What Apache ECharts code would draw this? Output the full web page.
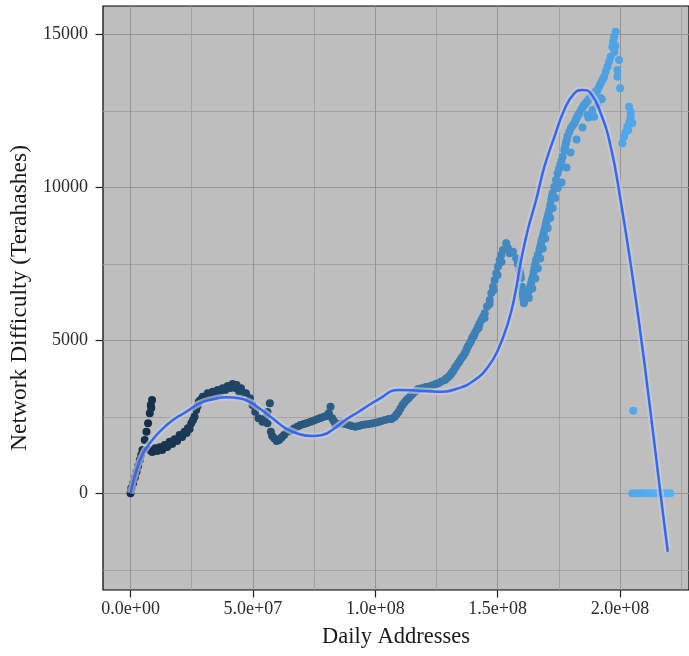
<!DOCTYPE html>
<html>
<head>
<meta charset="utf-8">
<script src="https://cdn.jsdelivr.net/npm/echarts@6/dist/echarts.min.js"></script>
<style>html,body{margin:0;padding:0;background:#fff;}#chart{width:689px;height:656px;}</style>
</head>
<body>
<div id="chart"></div>
<script>
// Daily addresses (millions) and network difficulty (terahashes)
const addrM = [0.0,0.33,1.06,1.75,2.44,3.09,3.78,4.35,4.88,5.81,6.50,7.15,7.85,8.25,8.78,8.46,
7.85,9.88,11.91,13.94,15.98,18.01,20.04,22.07,23.41,24.80,25.53,26.14,26.83,27.36,27.89,29.51,31.54,33.58,35.61,37.64,39.67,41.71,43.33,45.12,47.15,48.78,49.84,50.93,52.28,53.90,55.00,55.93,56.91,55.93,57.32,58.66,60.69,62.72,65.45,68.13,70.85,73.58,76.26,78.98,81.01,81.71,82.36,83.74,86.42,89.15,91.87,94.55,97.28,100.0,
102.56,105.41,107.85,109.47,111.10,112.73,114.35,115.98,117.61,119.64,121.67,123.70,125.73,128.46,129.80,131.14,132.52,133.86,135.20,136.58,137.52,138.62,139.55,140.65,141.99,143.33,144.71,145.65,146.75,147.40,148.09,148.78,149.43,150.12,150.81,151.46,152.15,153.49,154.18,154.88,156.22,157.56,158.25,158.94,159.47,159.88,160.28,160.69,161.63,163.01,163.66,164.35,165.04,165.69,167.07,167.72,168.41,169.10,169.75,170.44,171.14,171.87,172.48,173.17,173.82,174.51,175.53,176.54,177.23,177.88,178.57,179.92,181.30,182.23,183.33,184.27,185.36,186.71,188.05,189.43,190.77,192.11,193.49,194.14,194.84,195.53,196.18,196.87,197.19,197.56,198.21,197.68,198.09,199.59,198.90,198.90,200.00,189.43,188.74,
203.66,204.31,204.31,205.00,203.78,202.97,202.28,201.63,200.94,203.38,
140.16,142.21,144.65,146.68,148.31,149.94,151.56,176.13,178.15,179.78,182.22,184.66,187.10,192.52,
8.86,10.89,12.93,14.96,16.99,19.02,21.06,22.89,24.11,
28.58,30.61,32.64,34.68,36.71,38.74,40.77,42.81,44.43,46.06,
57.85,59.67,61.71,63.95,66.79,69.43,72.08,74.92,77.56,80.00,83.04,85.07,87.72,90.36,93.20,95.85,98.49,101.33,103.98,
106.63,108.66,110.28,111.91,113.54,115.17,116.79,118.62,120.65,122.68,124.71,126.95,128.98,130.61,131.83,133.05,134.47,135.90,137.12,137.93,139.15,140.17,141.38,142.60,144.03,
159.27,160.08,160.49,161.10,162.32,163.33,163.94,164.67,165.37,166.38,167.40,168.01,168.74,169.43,170.04,170.77,171.46,172.15,
162.72,164.14,165.37,166.38,167.40,168.41,169.43,170.45,171.46,172.48,173.49,174.51,
175.04,176.06,177.56,178.25,179.27,180.61,181.83,182.76,184.79,186.01,187.40,188.74,190.08,191.46,192.80,186.71,190.77,191.99,
205.38,205.0,206.6,208.3,209.9,211.5,213.1,214.8,216.4,218.0,219.6,220.5];
const difficulty = [0,173,327,516,706,892,1088,1252,1415,1742,2013,2288,2614,2885,3049,2788,
1415,1471,1503,1578,1686,1764,1905,2013,2124,2288,2396,2503,2722,2853,2993,3157,3268,3320,3376,3431,3507,3572,3539,3431,3268,3105,2886,2667,2451,2340,2461,2657,2941,2288,2013,1797,1742,1905,2046,2176,2265,2340,2418,2503,2614,2830,2451,2232,2288,2232,2176,2232,2265,2307,
2363,2428,2494,2657,2885,3049,3180,3310,3408,3441,3484,3539,3595,3703,3801,3922,4095,4248,4422,4575,4748,4902,5075,5229,5445,5663,5882,6105,6317,6546,6752,6971,7190,7412,7624,7788,7952,8170,8016,7843,7896,7680,7494,7297,7036,6752,6481,6209,6425,6644,6873,7078,7363,7624,7951,8180,8386,8605,8824,9046,9258,9585,9814,10020,10239,10458,10729,11000,11219,11438,11677,11938,12092,12265,12418,12559,12690,12820,12961,13082,13180,13399,13615,13784,13941,14111,14268,14595,14765,14922,15085,14422,14618,14160,13833,13614,13235,12307,12526,
12634,12461,12307,12092,12134,11980,11807,11654,11438,11873,
5141,5403,5730,6187,6644,7134,7559,10161,10651,11141,11566,11958,12285,12874,
1350,1382,1415,1513,1611,1709,1840,1971,2101,
3049,3147,3212,3245,3310,3376,3441,3441,3310,3278,
1873,1709,1824,2013,2118,2232,2297,2379,2461,2526,2363,2265,2265,2199,2199,2248,2281,2330,2396,
2428,2575,2771,2967,3098,3245,3360,3425,3474,3507,3572,3654,3752,3866,3997,4160,4324,4487,4667,4814,4978,5141,5337,5549,5762,
7170,6614,6353,6320,6530,6758,6971,7232,7493,7788,8065,8278,8497,8713,8931,9150,9422,9699,
6382,6696,7023,7349,7676,8003,8330,8670,8997,9324,9650,9977,
10598,10860,11317,11546,11808,12020,12183,12347,12625,12755,12886,13017,13131,13294,13507,12363,12690,12918,
2700,0,0,0,0,0,0,0,0,0,0,0];

// Smoothed fit
const smoothAddrM = [0,2.44,5.12,7.85,11.9,17.3,22.8,28.2,33.6,39.0,44.4,48.5,52.6,58.0,63.4,68.8,74.2,78.3,82.4,87.8,93.2,98.6,101.3,109.5,117.6,125.7,133.9,140.6,146.1,150.1,154.2,156.9,159.6,162.3,165.7,169.1,173.2,177.2,181.3,184.7,188.0,192.1,196.2,200.2,205.0,209.8,216.5,219.5];
const smoothDiff = [0,761,1307,1634,2013,2395,2667,2941,3072,3137,3105,2993,2778,2451,2124,1938,1873,1905,2069,2396,2667,2941,3072,3376,3353,3320,3431,3703,4137,4683,5565,6425,7624,8605,9585,10674,11654,12526,13072,13180,13072,12418,11327,9585,7134,4356,0,-1909];

// Axis ticks
const xMajorTicks = [0, 50, 100, 150, 200];
const xMinorTicks = [25, 75, 125, 175, 225];
const yMajorTicks = [0, 5000, 10000, 15000];
const yMinorTicks = [-2500, 2500, 7500, 12500];

const pts = addrM.map((x, i) => [x, difficulty[i]]);
const smooth = smoothAddrM.map((x, i) => [x, smoothDiff[i]]);

function fmtX(v) {
  const val = v * 1e6;
  if (val === 0) return '0.0e+00';
  const e = Math.floor(Math.log10(Math.abs(val)) + 1e-9);
  const m = val / Math.pow(10, e);
  return m.toFixed(1) + 'e+' + String(e).padStart(2, '0');
}

const FONT = 'Liberation Serif';
const XMIN = -11.26, XMAX = 228.17, YMIN = -3160, YMAX = 15925;

const chart = echarts.init(document.getElementById('chart'), null, {renderer: 'canvas'});
chart.setOption({
  backgroundColor: '#ffffff',
  animation: false,
  grid: {left: 103, right: -3, top: 6, bottom: 66, show: true, backgroundColor: '#bebebe', borderColor: '#000', borderWidth: 1.2},
  xAxis: [
    {type: 'value', min: XMIN, max: XMAX, position: 'bottom',
     name: 'Daily Addresses', nameLocation: 'middle', nameGap: 36,
     nameTextStyle: {fontFamily: FONT, fontSize: 22.5, color: '#1a1a1a'},
     axisLine: {show: false, onZero: false},
     axisTick: {show: true, length: 7.5, customValues: xMajorTicks, lineStyle: {color: '#222', width: 1.2}},
     axisLabel: {customValues: xMajorTicks, formatter: fmtX, fontFamily: FONT, fontSize: 18, color: '#2a2a2a', margin: 10},
     splitLine: {show: true, lineStyle: {color: '#8e8e8e', width: 0.9}}},
    {type: 'value', min: XMIN, max: XMAX, position: 'top',
     axisLine: {show: false, onZero: false},
     axisTick: {show: false, customValues: xMinorTicks},
     axisLabel: {show: false, customValues: xMinorTicks},
     splitLine: {show: true, lineStyle: {color: '#9c9c9c', width: 0.8}}}
  ],
  yAxis: [
    {type: 'value', min: YMIN, max: YMAX, position: 'left',
     name: 'Network Difficulty (Terahashes)', nameLocation: 'middle', nameGap: 70,
     nameTextStyle: {fontFamily: FONT, fontSize: 23.5, color: '#1a1a1a'},
     axisLine: {show: false, onZero: false},
     axisTick: {show: true, length: 7.5, customValues: yMajorTicks, lineStyle: {color: '#222', width: 1.2}},
     axisLabel: {customValues: yMajorTicks, formatter: v => String(v), fontFamily: FONT, fontSize: 18, color: '#2a2a2a', margin: 15},
     splitLine: {show: true, lineStyle: {color: '#8e8e8e', width: 0.9}}},
    {type: 'value', min: YMIN, max: YMAX, position: 'right',
     axisLine: {show: false, onZero: false},
     axisTick: {show: false, customValues: yMinorTicks},
     axisLabel: {show: false, customValues: yMinorTicks},
     splitLine: {show: true, lineStyle: {color: '#9c9c9c', width: 0.8}}}
  ],
  visualMap: {show: false, type: 'continuous', seriesIndex: 0, dimension: 0, min: 0, max: 220,
              inRange: {color: ['#132B43', '#56B1F7']}},
  series: [
    {type: 'scatter', data: pts, symbolSize: 8, xAxisIndex: 0, yAxisIndex: 0, z: 2,
     itemStyle: {opacity: 1}},
    {type: 'line', data: smooth, smooth: true, symbol: 'none', xAxisIndex: 0, yAxisIndex: 0, z: 3,
     lineStyle: {color: 'rgba(205,205,205,0.65)', width: 7}},
    {type: 'line', data: smooth, smooth: true, symbol: 'none', xAxisIndex: 0, yAxisIndex: 0, z: 4,
     lineStyle: {color: '#3366FF', width: 2.5}}
  ]
});
</script>
</body>
</html>
